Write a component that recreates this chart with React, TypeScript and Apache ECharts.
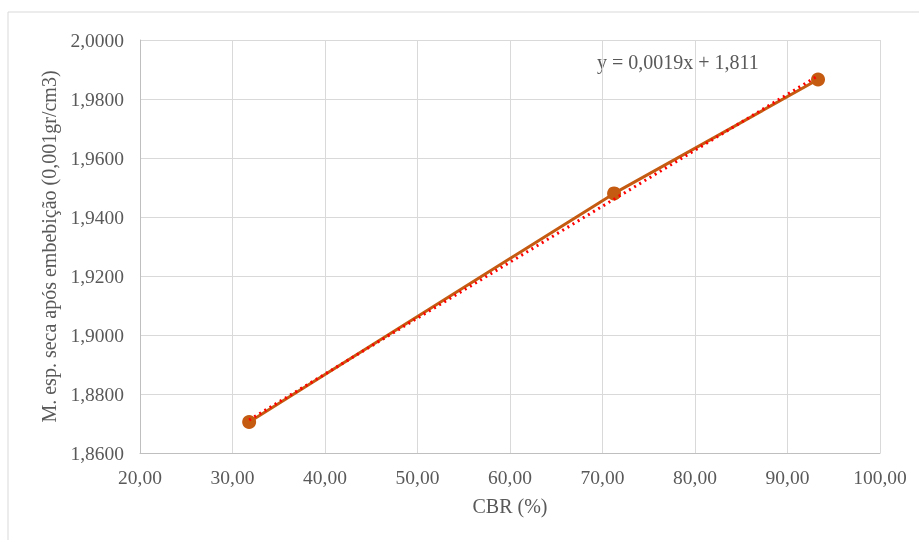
import React, { useEffect, useRef } from "react";
import * as echarts from "echarts";

const cbr = [31.8, 71.25, 93.3];
const density = [1.8705, 1.948, 1.9866];
const xTicks = [20, 100, 10];
const yTicks = [1.86, 2.0, 0.02];
const equationText = "y = 0,0019x + 1,811";
const yName = "M. esp. seca após embebição (0,001gr/cm3)";
const xName = "CBR (%)";

function fit(xs: number[], ys: number[]) {
  const n = xs.length;
  const mx = xs.reduce((a, b) => a + b, 0) / n;
  const my = ys.reduce((a, b) => a + b, 0) / n;
  let sxy = 0, sxx = 0;
  for (let i = 0; i < n; i++) {
    sxy += (xs[i] - mx) * (ys[i] - my);
    sxx += (xs[i] - mx) ** 2;
  }
  const b = sxy / sxx;
  return { b, a: my - b * mx };
}

export default function App() {
  const ref = useRef<HTMLDivElement>(null);
  useEffect(() => {
    if (!ref.current) return;
    const chart = echarts.init(ref.current, undefined, { renderer: "svg" });
    const { a, b } = fit(cbr, density);
    const xmin = Math.min(...cbr);
    const xmax = Math.max(...cbr);
    const trend = [[xmin, a + b * xmin], [xmax, a + b * xmax]];
    const font = "'Liberation Serif', 'Times New Roman', serif";
    chart.setOption({
      animation: false,
      textStyle: { fontFamily: font },
      graphic: [
        {
          type: "rect",
          shape: { x: 8, y: 12, width: 1000, height: 600 },
          style: { fill: "none", stroke: "#d9d9d9", lineWidth: 1 },
          silent: true,
        },
        {
          type: "text",
          left: 597,
          top: 52,
          style: { text: equationText, fontFamily: font, fontSize: 20, fill: "#595959" },
        },
      ],
      grid: { left: 140, right: 39, top: 40, bottom: 87, containLabel: false },
      xAxis: {
        type: "value",
        min: xTicks[0],
        max: xTicks[1],
        interval: xTicks[2],
        name: xName,
        nameLocation: "middle",
        nameGap: 43,
        nameTextStyle: { fontFamily: font, fontSize: 20, color: "#595959" },
        axisLine: { show: true, lineStyle: { color: "#bfbfbf" } },
        axisTick: { show: false },
        splitLine: { show: true, lineStyle: { color: "#d9d9d9", width: 1 } },
        axisLabel: {
          fontFamily: font,
          fontSize: 19.5,
          color: "#595959",
          margin: 14,
          formatter: (v: number) => v.toFixed(2).replace(".", ","),
        },
      },
      yAxis: {
        type: "value",
        min: yTicks[0],
        max: yTicks[1],
        interval: yTicks[2],
        name: yName,
        nameLocation: "middle",
        nameGap: 79,
        nameTextStyle: { fontFamily: font, fontSize: 20, color: "#595959" },
        axisLine: { show: true, lineStyle: { color: "#bfbfbf" } },
        axisTick: { show: false },
        splitLine: { show: true, lineStyle: { color: "#d9d9d9", width: 1 } },
        axisLabel: {
          fontFamily: font,
          fontSize: 19.5,
          color: "#595959",
          margin: 16,
          formatter: (v: number) => v.toFixed(4).replace(".", ","),
        },
      },
      series: [
        {
          type: "line",
          data: cbr.map((x, i) => [x, density[i]]),
          lineStyle: { color: "#C55A11", width: 3 },
          itemStyle: { color: "#C55A11" },
          symbol: "circle",
          symbolSize: 14,
          z: 2,
        },
        {
          type: "line",
          data: trend,
          lineStyle: { color: "#FF0000", width: 3, type: [2, 4] },
          symbol: "none",
          z: 3,
        },
      ],
    });
    return () => chart.dispose();
  }, []);
  return (
    <div
      ref={ref}
      style={{ position: "fixed", left: 0, top: 0, width: 919, height: 540 }}
    />
  );
}
